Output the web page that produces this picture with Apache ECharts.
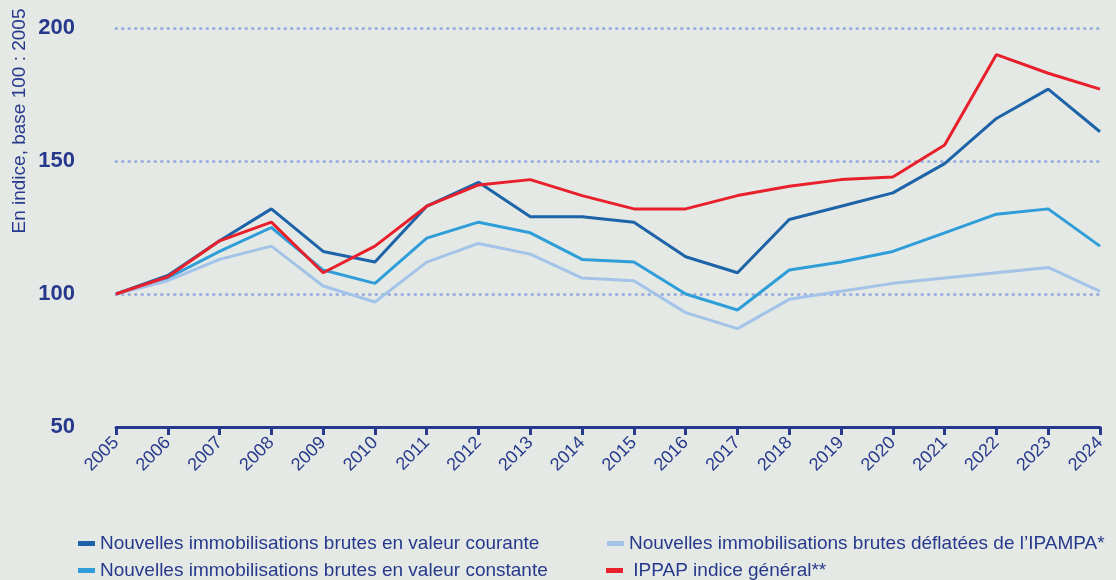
<!DOCTYPE html>
<html>
<head>
<meta charset="utf-8">
<script src="https://cdn.jsdelivr.net/npm/echarts@6/dist/echarts.min.js"></script>
<style>
  html, body { margin: 0; padding: 0; background: #e5e9e5; }
  #chart { width: 1116px; height: 580px; }
</style>
</head>
<body>
<div id="chart"></div>
<script>
// données (indice base 100 : 2005)
var annees = ['2005', '2006', '2007', '2008', '2009', '2010', '2011', '2012', '2013', '2014',
  '2015', '2016', '2017', '2018', '2019', '2020', '2021', '2022', '2023', '2024'];
var courante = [100, 107, 120, 132, 116, 112, 133, 142, 129, 129, 127, 114, 108, 128, 133, 138, 149, 166, 177, 161];
var constante = [100, 106, 116, 125, 109, 104, 121, 127, 123, 113, 112, 100, 94, 109, 112, 116, 123, 130, 132, 118];
var deflatee = [100, 105, 113, 118, 103, 97, 112, 119, 115, 106, 105, 93, 87, 98, 101, 104, 106, 108, 110, 101];
var ippap = [100, 106.5, 120, 127, 108, 118, 133, 141, 143, 137, 132, 132, 137, 140.5, 143, 144, 156, 190, 183, 177];
var yTicks = [50, 100, 150, 200];

var navy = '#27398c';
var noms = [
  'Nouvelles immobilisations brutes en valeur courante',
  'Nouvelles immobilisations brutes en valeur constante',
  'Nouvelles immobilisations brutes déflatées de l\u2019IPAMPA*',
  ' IPPAP indice général**'
];

(function () {
  var myChart = echarts.init(document.getElementById('chart'));

  function serie(nom, data, couleur) {
    return {
      name: nom,
      type: 'line',
      data: data,
      symbol: 'none',
      color: couleur,
      lineStyle: { width: 3, color: couleur }
    };
  }

  // une légende par entrée, placées en 2 colonnes
  function legende(nom, left, top) {
    return {
      data: [nom],
      left: left, top: top,
      padding: 0,
      itemWidth: 17, itemHeight: 5,
      icon: 'rect',
      textStyle: { color: navy, fontSize: 19, fontFamily: 'Liberation Sans' }
    };
  }

  var option = {
    backgroundColor: '#e5e9e5',
    animation: false,
    grid: { left: 116, right: 16, top: 28, bottom: 153 },
    graphic: [{
      type: 'text',
      x: 10,
      y: 121,
      rotation: Math.PI / 2,
      style: {
        text: 'En indice, base 100 : 2005',
        fill: navy,
        font: '19px "Liberation Sans"',
        textAlign: 'center',
        textVerticalAlign: 'top'
      }
    }],
    legend: [
      legende(noms[0], 78, 534),
      legende(noms[1], 78, 561),
      legende(noms[2], 607, 534),
      legende(noms[3], 606, 561)
    ],
    xAxis: {
      type: 'category',
      data: annees,
      boundaryGap: false,
      axisLine: { lineStyle: { color: navy, width: 3 } },
      axisTick: { length: 8, lineStyle: { color: navy, width: 3 } },
      axisLabel: {
        rotate: 45,
        color: navy,
        fontSize: 18,
        fontFamily: 'Liberation Sans',
        margin: 13,
        padding: [0, 0, 0, 0]
      }
    },
    yAxis: {
      type: 'value',
      min: yTicks[0],
      max: yTicks[yTicks.length - 1],
      interval: 50,
      axisLine: { show: false },
      axisTick: { show: false },
      axisLabel: {
        color: navy,
        fontSize: 22,
        fontWeight: 'bold',
        fontFamily: 'Liberation Sans',
        margin: 41,
        formatter: function (v) { return yTicks.indexOf(v) >= 0 ? v : ''; }
      },
      splitLine: {
        show: true,
        showMinLine: false,
        lineStyle: { color: '#9daee0', width: 3, type: [0.5, 6], cap: 'round' }
      }
    },
    series: [
      serie(noms[0], courante, '#1d63a8'),
      serie(noms[1], constante, '#2f9ed8'),
      serie(noms[2], deflatee, '#a3c4e8'),
      serie(noms[3], ippap, '#e8202c')
    ]
  };

  myChart.setOption(option);

  window.addEventListener('resize', function () {
    myChart.resize();
  });
})();
</script>
</body>
</html>
